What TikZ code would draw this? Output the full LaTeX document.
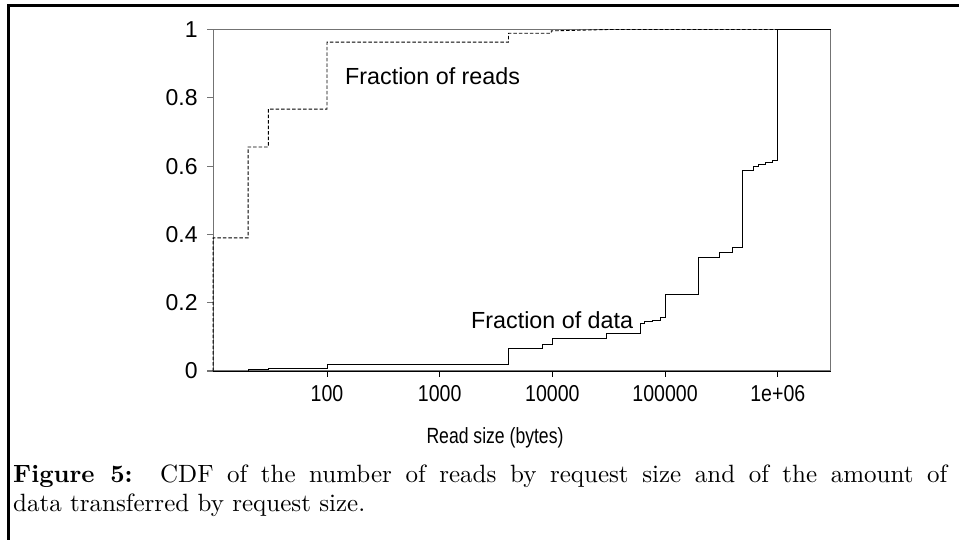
\documentclass[tikz,border=0pt]{standalone}
\usepackage{fontspec}
\newfontfamily\plotfont{Liberation Sans}
\newfontfamily\capfont{lmroman10-regular}[Extension=.otf,BoldFont=lmroman10-bold]
\begin{document}
\begin{tikzpicture}[x=1pt,y=-1pt,
    ticklab/.style={font=\plotfont\fontsize{23}{23}\selectfont,inner sep=0pt},
    curvelab/.style={font=\plotfont\fontsize{23.3}{23.3}\selectfont,inner sep=0pt,anchor=base west},
    captext/.style={font=\capfont\fontsize{25}{30}\selectfont,inner sep=0pt,anchor=base west},
    axisgray/.style={draw=black!55,line width=1.1pt},
    readcurve/.style={line width=0.9pt,dash pattern=on 3.5pt off 2pt},
    datacurve/.style={line width=0.9pt}]
\useasboundingbox (0,0) rectangle (959,540);
% page frame
\draw[line width=3pt] (8,540) -- (8,6) -- (959,6);
% plot: x is log10(bytes), y is fraction
\begin{scope}[shift={(101.6,371)},x=112.7pt,y=341.5pt]
    \draw[axisgray] (0.99,0) rectangle (6.47,1);
    \draw[line width=1pt] (0.99,0) -- (6.47,0);
    \foreach \v [count=\i] in {0,0.2,0.4,0.6,0.8,1}
        \draw[axisgray] (0.99,\v) -- ++(-6pt,0) node[ticklab,left=9pt] (y\i) {\v};
    \foreach \e/\lab [count=\i] in {2/100,3/1000,4/10000,5/100000,6/1e+06}
        \draw[line width=1pt] (\e,0) -- ++(0,-6pt) node[ticklab,xscale=0.85,below=8pt] (x\i) {\lab};
    % fraction of reads
    \draw[readcurve] (0.99,0) -- (0.99,0.39) -| (1.30,0.656) -| (1.48,0.767) -| (2,0.963)
        -| (3.61,0.989) -| (3.99,0.996) -- (4.5,1) -- (6.47,1);
    % fraction of data
    \draw[datacurve] (0.99,0) -| (1.30,0.005) -| (1.48,0.008) -| (2,0.02) -| (3.61,0.066)
        -| (3.91,0.078) -| (4,0.096) -| (4.48,0.110) -| (4.78,0.140) -| (4.82,0.144)
        -| (4.89,0.149) -| (4.955,0.156) -| (5,0.223) -| (5.30,0.332) -| (5.48,0.346)
        -| (5.60,0.361) -| (5.69,0.587) -| (5.78,0.598) -| (5.83,0.605) -| (5.89,0.611)
        -| (5.95,0.618) -| (6,0.624) -- (6,1) -- (6.47,1);
\end{scope}
\node[curvelab] (readlab) at (345,84.3) {Fraction of reads};
\node[curvelab] (datalab) at (471,328.3) {Fraction of data};
\node[font=\plotfont\fontsize{22}{22}\selectfont,inner sep=0pt,xscale=0.8] (xtitle) at (495,438) {Read size (bytes)};
% caption
\node[captext] (cap1) at (13,482)
    {\makebox[934pt][s]{\textbf{Figure 5:}\hspace{1.1em}CDF of the number of reads by request size and of the amount of}};
\node[captext] (cap2) at (13,511) {data transferred by request size.};
\end{tikzpicture}
\end{document}
